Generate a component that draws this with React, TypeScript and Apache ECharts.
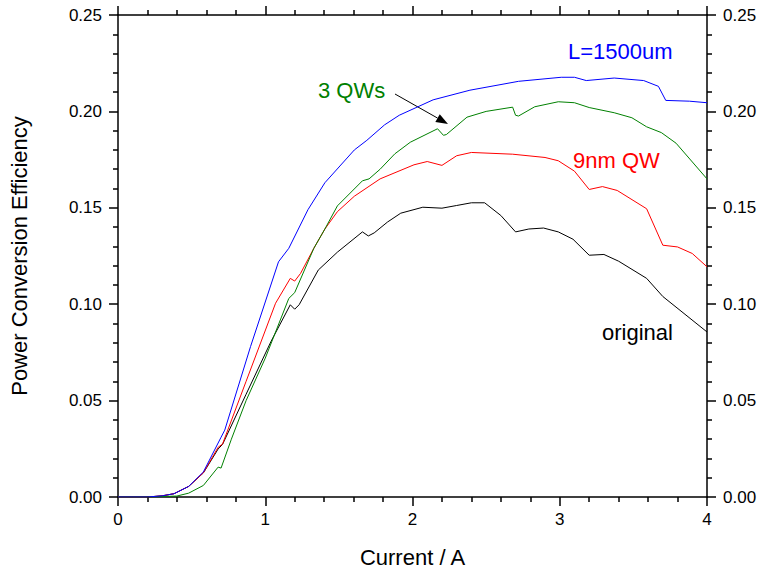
import React, { useEffect, useRef } from "react";
import * as echarts from "echarts";

const FONT = "'Liberation Sans', Arial, Helvetica, sans-serif";

const xTicks = [0, 1, 2, 3, 4];
const yTicks = [0, 0.05, 0.1, 0.15, 0.2, 0.25];

const seriesNames = ["L=1500um", "3 QWs", "9nm QW", "original"];
const seriesColors = ["#0000ff", "#008000", "#ff0000", "#000000"];

const blueL1500: [number, number][] = [
  [0, 0], [0.1, 0], [0.2, 0], [0.3, 0.0006], [0.38, 0.0017], [0.48, 0.0055], [0.58, 0.013],
  [0.7, 0.031], [0.725, 0.0347], [0.9, 0.078], [1.09, 0.122], [1.16, 0.129], [1.29, 0.149],
  [1.405, 0.163], [1.605, 0.18], [1.69, 0.185], [1.81, 0.193], [1.91, 0.198], [2.14, 0.206],
  [2.39, 0.211], [2.72, 0.2156], [3.01, 0.2177], [3.1, 0.2177], [3.18, 0.216], [3.37, 0.2173],
  [3.57, 0.216], [3.67, 0.213], [3.72, 0.2057], [3.88, 0.2053], [4.0, 0.2045],
];

const green3QWs: [number, number][] = [
  [0, 0], [0.2, 0], [0.4, 0.0005], [0.48, 0.002], [0.58, 0.006], [0.68, 0.0155], [0.7, 0.015],
  [0.77, 0.03], [0.87, 0.05], [1.0, 0.072], [1.16, 0.103], [1.2, 0.106], [1.33, 0.129],
  [1.405, 0.139], [1.49, 0.151], [1.66, 0.164], [1.705, 0.165], [1.78, 0.17], [1.88, 0.178],
  [1.985, 0.184], [2.17, 0.191], [2.21, 0.1876], [2.23, 0.188], [2.37, 0.197], [2.5, 0.2],
  [2.68, 0.2022], [2.7, 0.198], [2.72, 0.1976], [2.83, 0.2024], [2.99, 0.205], [3.1, 0.2045],
  [3.2, 0.202], [3.37, 0.1993], [3.49, 0.1967], [3.59, 0.192], [3.69, 0.189], [3.79, 0.1835],
  [4.0, 0.165],
];

const red9nmQW: [number, number][] = [
  [0, 0], [0.2, 0], [0.3, 0.0006], [0.38, 0.0017], [0.48, 0.0055], [0.58, 0.0126],
  [0.68, 0.0258], [0.71, 0.0275], [0.87, 0.06], [1.07, 0.1005], [1.17, 0.1134], [1.2, 0.112],
  [1.24, 0.116], [1.33, 0.129], [1.405, 0.139], [1.49, 0.148], [1.605, 0.156], [1.78, 0.165],
  [2.01, 0.1723], [2.1, 0.174], [2.2, 0.172], [2.3, 0.177], [2.4, 0.1787], [2.68, 0.1778],
  [2.9, 0.1761], [2.99, 0.1744], [3.1, 0.169], [3.2, 0.1595], [3.29, 0.161], [3.39, 0.159],
  [3.59, 0.1495], [3.7, 0.1306], [3.8, 0.1297], [3.9, 0.1263], [4.0, 0.1194],
];

const blackOriginal: [number, number][] = [
  [0, 0], [0.2, 0], [0.3, 0.0006], [0.38, 0.0017], [0.48, 0.0055], [0.58, 0.0125],
  [0.68, 0.0249], [0.71, 0.0273], [0.87, 0.0533], [1.04, 0.0808], [1.17, 0.0997], [1.2, 0.0974],
  [1.23, 0.0997], [1.36, 0.1177], [1.49, 0.127], [1.66, 0.1375], [1.7, 0.1354], [1.74, 0.137],
  [1.83, 0.1426], [1.92, 0.1472], [2.07, 0.1503], [2.2, 0.1498], [2.3, 0.1512], [2.4, 0.1526],
  [2.49, 0.1526], [2.6, 0.146], [2.7, 0.1375], [2.79, 0.139], [2.89, 0.1395], [2.99, 0.1375],
  [3.09, 0.1337], [3.2, 0.1254], [3.3, 0.1258], [3.4, 0.1223], [3.59, 0.1134], [3.7, 0.104],
  [4.0, 0.0856],
];

const allData = [blueL1500, green3QWs, red9nmQW, blackOriginal];

export default function App() {
  const ref = useRef<HTMLDivElement>(null);

  useEffect(() => {
    if (!ref.current) return;
    const chart = echarts.init(ref.current, undefined, { renderer: "svg" });

    const axisLineStyle = { color: "#000", width: 1.5 };
    const commonX = {
      type: "value" as const,
      min: xTicks[0],
      max: xTicks[xTicks.length - 1],
      interval: 1,
      splitLine: { show: false },
      axisLine: { show: true, onZero: false, lineStyle: axisLineStyle },
      axisTick: { show: true, length: 9, lineStyle: { color: "#000", width: 1.5 } },
      minorTick: { show: true, splitNumber: 5, length: 5, lineStyle: { color: "#000", width: 1.5 } },
      minorSplitLine: { show: false },
    };
    const commonY = {
      type: "value" as const,
      min: yTicks[0],
      max: yTicks[yTicks.length - 1],
      interval: 0.05,
      splitLine: { show: false },
      axisLine: { show: true, onZero: false, lineStyle: axisLineStyle },
      axisTick: { show: true, length: 9, lineStyle: { color: "#000", width: 1.5 } },
      minorTick: { show: true, splitNumber: 5, length: 5, lineStyle: { color: "#000", width: 1.5 } },
      minorSplitLine: { show: false },
    };

    // arrow geometry
    const a0 = [395, 94];
    const a1 = [448, 124];
    const dx = a1[0] - a0[0];
    const dy = a1[1] - a0[1];
    const len = Math.sqrt(dx * dx + dy * dy);
    const ux = dx / len;
    const uy = dy / len;
    const headL = 12;
    const headW = 4.5;
    const bx = a1[0] - headL * ux;
    const by = a1[1] - headL * uy;

    const textStyle = (color: string) => ({ fill: color, fontSize: 22, fontFamily: FONT });

    chart.setOption({
      animation: false,
      backgroundColor: "#fff",
      grid: { left: 110, right: 56, top: 15, bottom: 73, containLabel: false },
      xAxis: [
        {
          ...commonX,
          position: "bottom",
          name: "Current / A",
          nameLocation: "middle",
          nameGap: 49,
          nameTextStyle: { color: "#000", fontSize: 22, fontFamily: FONT },
          axisLabel: {
            show: true,
            color: "#000",
            fontSize: 17,
            fontFamily: FONT,
            margin: 14,
            formatter: (v: number) => String(v),
          },
        },
        {
          ...commonX,
          position: "top",
          axisLabel: { show: false },
        },
      ],
      yAxis: [
        {
          ...commonY,
          position: "left",
          name: "Power Conversion Efficiency",
          nameLocation: "middle",
          nameGap: 88,
          nameTextStyle: { color: "#000", fontSize: 22, fontFamily: FONT },
          axisLabel: {
            show: true,
            color: "#000",
            fontSize: 17,
            fontFamily: FONT,
            margin: 16,
            formatter: (v: number) => v.toFixed(2),
          },
        },
        {
          ...commonY,
          position: "right",
          axisLabel: {
            show: true,
            color: "#000",
            fontSize: 17,
            fontFamily: FONT,
            margin: 16,
            formatter: (v: number) => v.toFixed(2),
          },
        },
      ],
      series: allData.map((d, i) => ({
        name: seriesNames[i],
        type: "line",
        xAxisIndex: 0,
        yAxisIndex: 0,
        data: d,
        showSymbol: false,
        symbol: "none",
        lineStyle: { color: seriesColors[i], width: 1 },
        z: 10 - i,
      })),
      graphic: [
        { type: "text", x: 568, y: 51, style: { ...textStyle("#0000ff"), text: "L=1500um", verticalAlign: "middle" } },
        { type: "text", x: 318, y: 90, style: { ...textStyle("#008000"), text: "3 QWs", verticalAlign: "middle" } },
        { type: "text", x: 573, y: 160, style: { ...textStyle("#ff0000"), text: "9nm QW", verticalAlign: "middle" } },
        { type: "text", x: 602, y: 332, style: { ...textStyle("#000000"), text: "original", verticalAlign: "middle" } },
        {
          type: "line",
          shape: { x1: a0[0], y1: a0[1], x2: bx, y2: by },
          style: { stroke: "#000", lineWidth: 1 },
        },
        {
          type: "polygon",
          shape: {
            points: [
              [a1[0], a1[1]],
              [bx - headW * uy, by + headW * ux],
              [bx + headW * uy, by - headW * ux],
            ],
          },
          style: { fill: "#000" },
        },
      ],
    });

    return () => chart.dispose();
  }, []);

  return (
    <div
      ref={ref}
      style={{ position: "fixed", left: 0, top: 0, width: 763, height: 573, background: "#fff" }}
    />
  );
}
